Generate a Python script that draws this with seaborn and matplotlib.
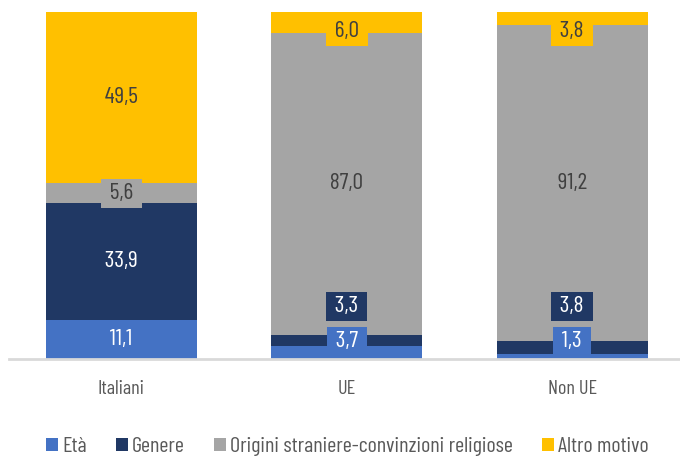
import numpy as np
import pandas as pd
import matplotlib
matplotlib.use("Agg")
import matplotlib.pyplot as plt
import seaborn as sns
from matplotlib.patches import Patch

categories = ["Italiani", "UE", "Non UE"]
series = ["Età", "Genere", "Origini straniere-convinzioni religiose", "Altro motivo"]
eta = [11.1, 3.7, 1.3]
genere = [33.9, 3.3, 3.8]
origini = [5.6, 87.0, 91.2]
altro = [49.5, 6.0, 3.8]

colors = ["#4472C4", "#203864", "#A5A5A5", "#FFC000"]
text_colors = ["white", "white", "#404040", "#404040"]

sns.set_style("white")
plt.rcParams["font.family"] = ["Barlow Condensed", "Roboto Condensed", "DejaVu Sans"]

fig = plt.figure(figsize=(6.8, 4.57), dpi=100)
ax = fig.add_axes([8.75 / 680, 1 - 359 / 457, 676 / 680, 347 / 457])

values = [eta, genere, origini, altro]
df = pd.DataFrame({"cat": categories})
bottom = np.zeros(len(categories))
for name, vals, col in zip(series, values, colors):
    df["v"] = vals
    sns.barplot(data=df, x="cat", y="v", bottom=bottom, color=col, width=0.67,
                saturation=1, ax=ax, edgecolor="none", linewidth=0)
    bottom = bottom + np.array(vals)

ax.set_ylim(0, 100)
ax.set_xlim(-0.5, 2.5)

# data labels with boxes, pushed apart when segments are too thin
box_h = 10.0
for i in range(len(categories)):
    base = 0.0
    prev = -box_h / 2
    n = len(values)
    for j, vals in enumerate(values):
        v = vals[i]
        y = base + v / 2
        if j == n - 1:
            y = min(y, 100 - box_h / 2 - 0.5)
        else:
            y = max(y, prev + box_h)
        prev = y
        base += v
        lab = f"{v:.1f}".replace(".", ",")
        ax.text(i, y, f" {lab} ", ha="center", va="center",
                fontsize=17, color=text_colors[j],
                bbox=dict(boxstyle="square,pad=0.17", fc=colors[j], ec="none"))

sns.despine(ax=ax, left=True, top=True, right=True)
ax.spines["bottom"].set_color("#D9D9D9")
ax.spines["bottom"].set_linewidth(2)
ax.set_yticks([])
ax.set_xlabel("")
ax.set_ylabel("")
ax.tick_params(axis="x", length=0, pad=15, labelsize=14.5, labelcolor="#595959")

handles = [Patch(facecolor=c, edgecolor="none") for c in colors]
fig.legend(handles, series, loc="center", bbox_to_anchor=(0.511, 1 - 447 / 457),
           ncol=4, frameon=False, fontsize=15.9, labelcolor="#595959",
           borderpad=0, borderaxespad=0,
           handlelength=0.55, handleheight=0.55, handletextpad=0.2, columnspacing=1.3)

fig.savefig("out.png", dpi=100)
